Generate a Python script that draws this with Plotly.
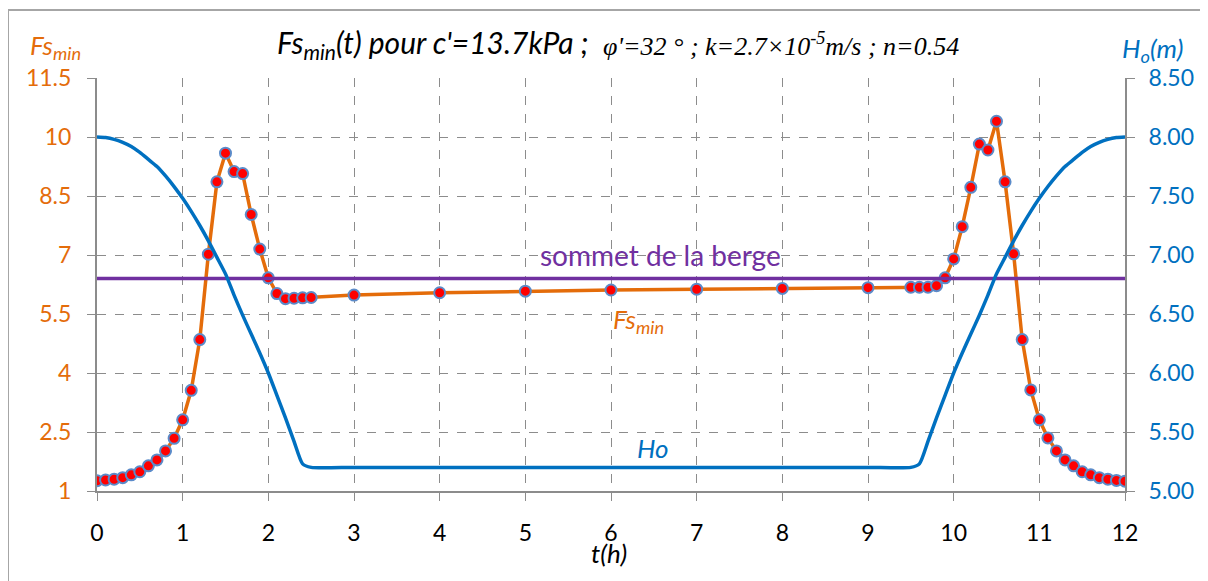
import plotly.graph_objects as go

# Fs_min(t)
fs_t = [0, 0.1, 0.2, 0.3, 0.4, 0.5, 0.6, 0.7, 0.8, 0.9, 1.0, 1.1, 1.2, 1.3, 1.4,
        1.5, 1.6, 1.7, 1.8, 1.9, 2.0, 2.1, 2.2, 2.3, 2.4, 2.5,
        3, 4, 5, 6, 7, 8, 9,
        9.5, 9.6, 9.7, 9.8, 9.9, 10.0, 10.1, 10.2, 10.3, 10.4, 10.5, 10.6, 10.7,
        10.8, 10.9, 11.0, 11.1, 11.2, 11.3, 11.4, 11.5, 11.6, 11.7, 11.8, 11.9, 12.0]
fs_min = [1.26, 1.28, 1.30, 1.34, 1.41, 1.49, 1.64, 1.79, 2.02, 2.34, 2.81, 3.56, 4.85, 7.02, 8.86,
          9.59, 9.12, 9.07, 8.03, 7.15, 6.42, 6.02, 5.89, 5.90, 5.91, 5.92,
          5.98, 6.04, 6.08, 6.11, 6.13, 6.15, 6.17,
          6.18, 6.18, 6.18, 6.22, 6.42, 6.90, 7.72, 8.72, 9.82, 9.67, 10.40, 8.86, 7.03,
          4.85, 3.57, 2.81, 2.35, 2.02, 1.79, 1.64, 1.49, 1.41, 1.34, 1.30, 1.27, 1.25]

# Ho(t) water level (m)
ho_t = [0, 0.1, 0.2, 0.3, 0.4, 0.5, 0.6, 0.7, 0.8, 0.9, 1.0, 1.1, 1.2, 1.3, 1.4,
        1.5, 1.6, 1.7, 1.8, 1.9, 2.0, 2.1, 2.2, 2.3, 2.4, 2.5,
        3, 4, 5, 6, 7, 8, 9,
        9.5, 9.6, 9.7, 9.8, 9.9, 10.0, 10.1, 10.2, 10.3, 10.4, 10.5, 10.6, 10.7,
        10.8, 10.9, 11.0, 11.1, 11.2, 11.3, 11.4, 11.5, 11.6, 11.7, 11.8, 11.9, 12.0]
ho_m = [8.00, 7.995, 7.98, 7.955, 7.92, 7.87, 7.81, 7.75, 7.67, 7.58, 7.48, 7.37, 7.25, 7.12, 6.98,
        6.84, 6.66, 6.49, 6.33, 6.17, 6.00, 5.81, 5.62, 5.42, 5.23, 5.20,
        5.20, 5.20, 5.20, 5.20, 5.20, 5.20, 5.20,
        5.20, 5.23, 5.42, 5.62, 5.81, 6.00, 6.17, 6.33, 6.49, 6.66, 6.84, 6.98, 7.12,
        7.25, 7.37, 7.48, 7.58, 7.67, 7.75, 7.81, 7.87, 7.92, 7.955, 7.98, 7.995, 8.00]

berge_t = [0, 12]
berge_m = [6.8, 6.8]

ORANGE = "#E46C0A"
BLUE = "#0070C0"
PURPLE = "#7030A0"
GRID = "#8C8C8C"
FONT = "Lato"
SERIF = "Liberation Serif, Times New Roman, DejaVu Serif, serif"

# the page body adds an 8px offset, so layout is laid out 8px up/left of the target
OFF = 8
W, H = 1208, 581
L, T = 97 - OFF, 78 - OFF
pw, ph = 1028, 413
R, B = W - L - pw, H - T - ph

fig = go.Figure()
fig.add_trace(go.Scatter(x=berge_t, y=berge_m, yaxis="y2", mode="lines",
                         line=dict(color=PURPLE, width=3.5), hoverinfo="skip"))
fig.add_trace(go.Scatter(x=ho_t, y=ho_m, yaxis="y2", mode="lines",
                         line=dict(color=BLUE, width=3.5, shape="spline", smoothing=0.6)))
fig.add_trace(go.Scatter(x=fs_t, y=fs_min, mode="lines+markers",
                         line=dict(color=ORANGE, width=3.5),
                         marker=dict(color="#FF0000", size=11,
                                     line=dict(color="#5B8BC9", width=2))))

fig.update_layout(
    width=W, height=H,
    margin=dict(l=L, r=R, t=T, b=B),
    paper_bgcolor="white", plot_bgcolor="white",
    showlegend=False,
    font=dict(family=FONT, size=24, color="black"),
    xaxis=dict(range=[0, 12], dtick=1, tick0=0, showgrid=True, gridcolor=GRID,
               griddash="dash", gridwidth=1, showline=True, linecolor=GRID, linewidth=2,
               ticks="outside", ticklen=8, tickcolor=GRID, zeroline=False,
               ticklabelstandoff=12, tickfont=dict(color="black", size=23)),
    yaxis=dict(range=[1, 11.5], dtick=1.5, tick0=1, showgrid=True, gridcolor=GRID,
               griddash="dash", gridwidth=1, showline=True, linecolor=GRID, linewidth=2,
               ticks="outside", ticklen=8, tickcolor=GRID, zeroline=False,
               ticklabelstandoff=11, tickfont=dict(color=ORANGE, size=23)),
    yaxis2=dict(range=[5, 8.5], dtick=0.5, tick0=5, overlaying="y", side="right",
                showgrid=False, showline=True, linecolor=GRID, linewidth=2,
                ticks="outside", ticklen=8, tickcolor=GRID, zeroline=False,
                tickformat=".2f", ticklabelstandoff=9,
                tickfont=dict(color=BLUE, size=23)),
)

# screen positions (px) of the free texts
annotations = [
    dict(text="<i>Fs<sub>min</sub>(t) pour c'=13.7kPa ;</i>", x=590, y=44, xa="right",
         font=dict(family=FONT, size=30, color="black")),
    dict(text="<i>φ'=32 ° ; k=2.7×10<sup>-5</sup>m/s ; n=0.54</i>", x=601, y=44, xa="left",
         font=dict(family=SERIF, size=26, color="black")),
    dict(text="<i>Fs<sub>min</sub></i>", x=55, y=46, font=dict(family=FONT, size=26, color=ORANGE)),
    dict(text="<i>H<sub>o</sub>(m)</i>", x=1152, y=50, font=dict(family=FONT, size=26, color=BLUE)),
    dict(text="<i>t(h)</i>", x=609, y=553, font=dict(family=FONT, size=26, color="black")),
    dict(text="sommet de la berge", x=660, y=255, font=dict(family=FONT, size=28, color=PURPLE)),
    dict(text="<i>Fs<sub>min</sub></i>", x=638, y=320, font=dict(family=FONT, size=26, color=ORANGE)),
    dict(text="<i>Ho</i>", x=653, y=448, font=dict(family=FONT, size=26, color=BLUE)),
]
for a in annotations:
    fig.add_annotation(text=a["text"], xref="paper", yref="paper",
                       x=(a["x"] - OFF - L) / pw, y=1 - (a["y"] - OFF - T) / ph,
                       xanchor=a.get("xa", "center"), yanchor="middle", showarrow=False,
                       font=a["font"])

# outer chart border
fig.add_shape(type="rect", xref="paper", yref="paper",
              x0=(8 - OFF - L) / pw, x1=(1230 - OFF - L) / pw,
              y0=1 - (610 - OFF - T) / ph, y1=1 - (10 - OFF - T) / ph,
              line=dict(color="#A6A6A6", width=2), layer="below")

fig.write_html("out.html")
